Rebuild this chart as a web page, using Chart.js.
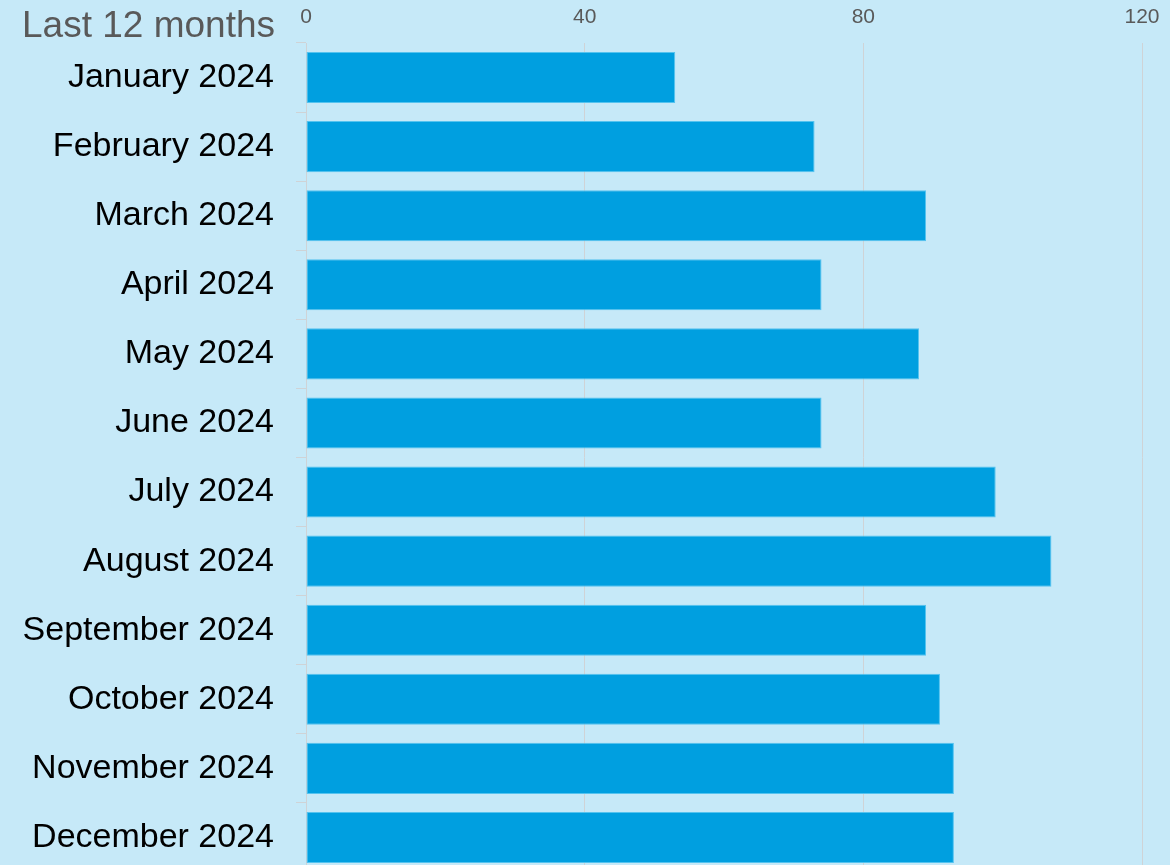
<!DOCTYPE html>
<html>
<head>
<meta charset="utf-8">
<script src="https://cdn.jsdelivr.net/npm/chart.js@4/dist/chart.umd.min.js"></script>
<style>
  html, body { margin: 0; padding: 0; background: #c6e9f8; overflow: hidden; }
  #wrap { width: 1170px; height: 865px; overflow: hidden; position: relative; }
  #inner { width: 1170px; height: 874px; position: relative; }
</style>
</head>
<body>
<div id="wrap"><div id="inner"><canvas id="myChart"></canvas></div></div>
<script>
const months = ['January 2024', 'February 2024', 'March 2024', 'April 2024', 'May 2024', 'June 2024',
  'July 2024', 'August 2024', 'September 2024', 'October 2024', 'November 2024', 'December 2024'];
const counts = [53, 73, 89, 74, 88, 74, 99, 107, 89, 91, 93, 93];
const xTicks = [0, 40, 80, 120];

const titleText = 'Last 12 months';

// corner title, drawn on the canvas
const cornerTitle = {
  id: 'cornerTitle',
  afterDraw(chart) {
    const c = chart.ctx;
    c.save();
    c.font = '37px "Liberation Sans", Arial, sans-serif';
    c.fillStyle = '#595959';
    c.textBaseline = 'alphabetic';
    c.textAlign = 'left';
    c.fillText(titleText, 22, 37);
    c.restore();
  }
};

const init = function(){
  var ctx = document.getElementById('myChart').getContext('2d');
  var chart = new Chart(ctx, {
    type: 'bar',
    data: {
      labels: months,
      datasets: [{
        label: 'Last 12 months',
        data: counts,
        backgroundColor: '#009fe0',
        borderColor: '#55c3ef',
        borderWidth: 1,
        borderSkipped: false,
        categoryPercentage: 0.74,
        barPercentage: 1
      }]
    },
    options: {
      indexAxis: 'y',
      responsive: true,
      maintainAspectRatio: false,
      animation: false,
      devicePixelRatio: 1,
      layout: { padding: { top: 0, right: 28, bottom: 2, left: 0 } },
      plugins: {
        legend: { display: false },
        tooltip: { enabled: false }
      },
      scales: {
        x: {
          position: 'top',
          min: 0,
          max: 120,
          afterBuildTicks: (s) => { s.ticks = xTicks.map(v => ({ value: v })); },
          afterFit: (s) => { s.height = 43; s.paddingLeft = 0; s.paddingRight = 0; },
          grid: { color: '#cfd3d6', lineWidth: 1, drawTicks: false },
          border: { display: false },
          ticks: {
            color: '#595959',
            font: { family: '"Liberation Sans", Arial, sans-serif', size: 21 },
            padding: 13,
            maxRotation: 0
          }
        },
        y: {
          afterFit: (s) => { s.width = 306; s.paddingTop = 0; s.paddingBottom = 0; },
          grid: {
            offset: true,
            drawOnChartArea: false,
            drawTicks: true,
            tickLength: 10,
            color: '#cfd3d6'
          },
          border: { display: true, color: '#cfd3d6', width: 1 },
          ticks: {
            color: '#000000',
            font: { family: '"Liberation Sans", Arial, sans-serif', size: 34 },
            padding: 22,
            autoSkip: false
          }
        }
      }
    },
    plugins: [cornerTitle]
  });
}

document.addEventListener("DOMContentLoaded", init);
</script>
</body>
</html>
